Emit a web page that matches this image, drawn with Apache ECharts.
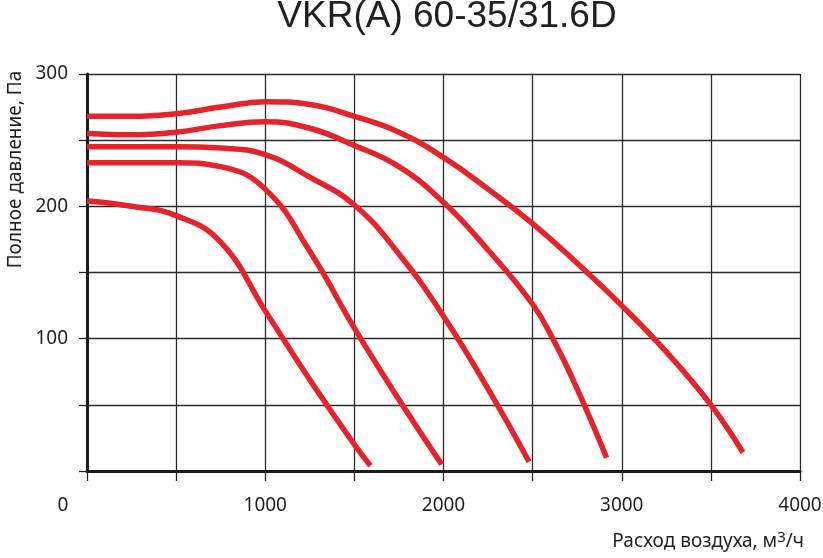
<!DOCTYPE html>
<html>
<head>
<meta charset="utf-8">
<title>VKR(A) 60-35/31.6D</title>
<script src="https://cdn.jsdelivr.net/npm/echarts@6/dist/echarts.min.js"></script>
<style>
    html, body { margin: 0; padding: 0; background: #fff; }
    #chart_vkr { width: 823px; height: 558px; }
</style>
</head>
<body>
<div id="chart_vkr"></div>
<script>
// характеристики вентилятора, [расход м3/ч, давление Па]
var curve_1 = [[0,268],[250,268],[500,270],[750,275],[1000,279],[1250,277],[1500,268],[1750,256],[2000,237],[2250,213],[2500,187],[2750,157],[3000,125],[3250,90],[3500,50],[3680,14]];
var curve_2 = [[0,255],[250,254],[500,256],[750,261],[1000,264],[1250,259],[1500,246],[1750,230],[2000,203],[2250,167],[2500,126],[2625,97],[2750,62],[2915,10]];
var curve_3 = [[0,245],[250,245],[500,245],[750,244],[1000,239],[1250,222],[1500,201],[1750,164],[2000,117],[2250,62],[2480,7]];
var curve_4 = [[0,233],[250,233],[500,233],[750,230],[1000,213],[1250,166],[1500,108],[1750,54],[1990,5]];
var curve_5 = [[0,204],[250,200],[500,193],[750,173],[1000,121],[1250,69],[1500,20],[1590,4]];

var x_ticks = [0, 4000, 500];   // min, max, шаг
var y_ticks = [0, 300, 50];

var chart_vkr = echarts.init(document.getElementById('chart_vkr'));

function redLine(data){
    return {
        type:'line',
        data:data,
        smooth:0.45,
        showSymbol:false,
        silent:true,
        lineStyle:{ color:'#e5232b', width:5.5, cap:'butt' }
    };
}

chart_vkr.setOption({
    animation:false,
    textStyle:{ fontFamily:'Noto Sans' },
    title:{
        text:'VKR(A) 60-35/31.6D',
        left:447,
        top:-2,
        textAlign:'center',
        padding:0,
        textStyle:{ fontFamily:'Liberation Sans', fontSize:37, fontWeight:'normal', color:'#231f20' }
    },
    grid:{
        left:87,
        right:23,
        top:74,
        bottom:87,
        containLabel:false,
        outerBoundsMode:'none'
    },
    xAxis:{
        type:'value',
        min:x_ticks[0], max:x_ticks[1], interval:x_ticks[2],
        name:'Расход воздуха, м{sup|3}/ч',
        nameLocation:'end',
        nameGap:4,
        nameMoveOverlap:false,
        nameTextStyle:{
            fontSize:19, color:'#231f20', align:'right', verticalAlign:'top',
            lineHeight:24, padding:[59,0,0,0],
            rich:{ sup:{ fontSize:15, lineHeight:15, verticalAlign:'top', color:'#231f20' } }
        },
        axisLine:{ show:true, onZero:false, lineStyle:{ color:'#1a1a1a', width:3 } },
        axisTick:{ show:true, length:10, lineStyle:{ color:'#222', width:1.3 } },
        splitLine:{ show:true, lineStyle:{ color:'#2b2b2b', width:1.3 } },
        axisLabel:{
            fontSize:19, color:'#231f20', margin:25,
            formatter:function(v){
                if (v === 0) return '{o|0}';
                return v % 1000 === 0 ? String(v) : '';
            },
            rich:{ o:{ fontSize:19, padding:[0,48,0,0], color:'#231f20' } }
        }
    },
    yAxis:{
        type:'value',
        min:y_ticks[0], max:y_ticks[1], interval:y_ticks[2],
        name:'Полное давление, Па',
        nameLocation:'middle',
        nameGap:62,
        nameMoveOverlap:false,
        nameTextStyle:{ fontSize:19, color:'#231f20', padding:[0,0,0,206] },
        axisLine:{ show:true, onZero:false, lineStyle:{ color:'#1a1a1a', width:3 } },
        axisTick:{ show:true, length:8, lineStyle:{ color:'#222', width:1.3 } },
        splitLine:{ show:true, lineStyle:{ color:'#2b2b2b', width:1.3 } },
        axisLabel:{
            fontSize:19, color:'#231f20', margin:19,
            formatter:function(v){
                return (v % 100 === 0 && v !== 0) ? String(v) : '';
            }
        }
    },
    series:[
        redLine(curve_1),
        redLine(curve_2),
        redLine(curve_3),
        redLine(curve_4),
        redLine(curve_5)
    ]
});
</script>
</body>
</html>
